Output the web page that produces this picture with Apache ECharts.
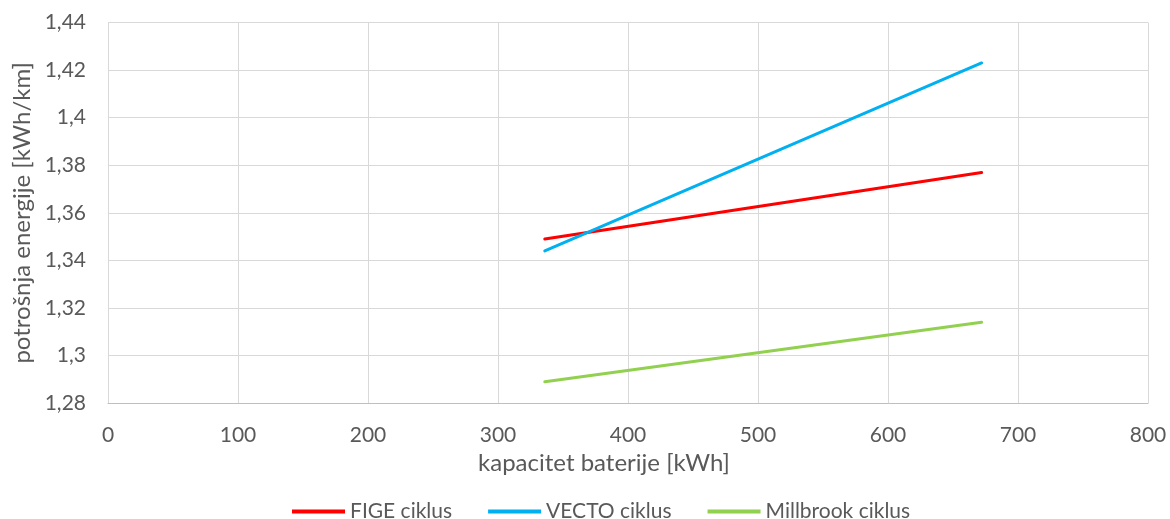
<!DOCTYPE html>
<html>
<head>
<meta charset="utf-8">
<script src="https://cdn.jsdelivr.net/npm/echarts@6/dist/echarts.min.js"></script>
<style>html,body{margin:0;padding:0;background:#fff}#c{width:1170px;height:519px}</style>
</head>
<body>
<div id="c"></div>
<script>
const capacity = [336, 672];
const seriesNames = ['FIGE ciklus', 'VECTO ciklus', 'Millbrook ciklus'];
const fige = [1.349, 1.377];
const vecto = [1.344, 1.423];
const millbrook = [1.289, 1.314];
const colors = ['#FF0000', '#00B0F0', '#92D050'];
const xTitle = 'kapacitet baterije [kWh]';
const yTitle = 'potrošnja energije [kWh/km]';

const FONT = 'Lato';
const TXT = '#595959';
const fmt = v => String(+(+v).toFixed(2)).replace('.', ',');

const chart = echarts.init(document.getElementById('c'), null, {renderer: 'canvas'});
const values = [fige, vecto, millbrook];
chart.setOption({
  animation: false,
  textStyle: {fontFamily: FONT},
  grid: {left: 108, right: 22, top: 22.5, bottom: 115.8, containLabel: false},
  legend: {
    top: 496, left: 287,
    icon: 'rect', itemWidth: 53, itemHeight: 4, itemGap: 36,
    textStyle: {fontFamily: FONT, fontSize: 21, color: TXT},
    data: seriesNames
  },
  xAxis: {
    type: 'value', min: 0, max: 800, interval: 100,
    name: xTitle, nameLocation: 'middle', nameGap: 39,
    nameTextStyle: {fontFamily: FONT, fontSize: 24, color: TXT, padding: [0, 48, 0, 0]},
    axisLine: {show: true, lineStyle: {color: '#BFBFBF', width: 1}},
    axisTick: {show: false},
    axisLabel: {fontFamily: FONT, fontSize: 21, color: TXT, margin: 22, formatter: fmt},
    splitLine: {show: true, lineStyle: {color: '#D9D9D9', width: 1}}
  },
  yAxis: {
    type: 'value', min: 1.28, max: 1.44, interval: 0.02,
    name: yTitle, nameLocation: 'middle', nameGap: 71, nameRotate: 90,
    nameTextStyle: {fontFamily: FONT, fontSize: 24, color: TXT},
    axisLine: {show: true, lineStyle: {color: '#D9D9D9', width: 1}},
    axisTick: {show: false},
    axisLabel: {fontFamily: FONT, fontSize: 21, color: TXT, margin: 22, formatter: fmt},
    splitLine: {show: true, lineStyle: {color: '#D9D9D9', width: 1}}
  },
  series: seriesNames.map((n, i) => ({
    name: n, type: 'line',
    data: capacity.map((x, j) => [x, values[i][j]]),
    showSymbol: false, symbol: 'none',
    lineStyle: {color: colors[i], width: 3, cap: 'round'},
    itemStyle: {color: colors[i]}
  }))
});
</script>
</body>
</html>
